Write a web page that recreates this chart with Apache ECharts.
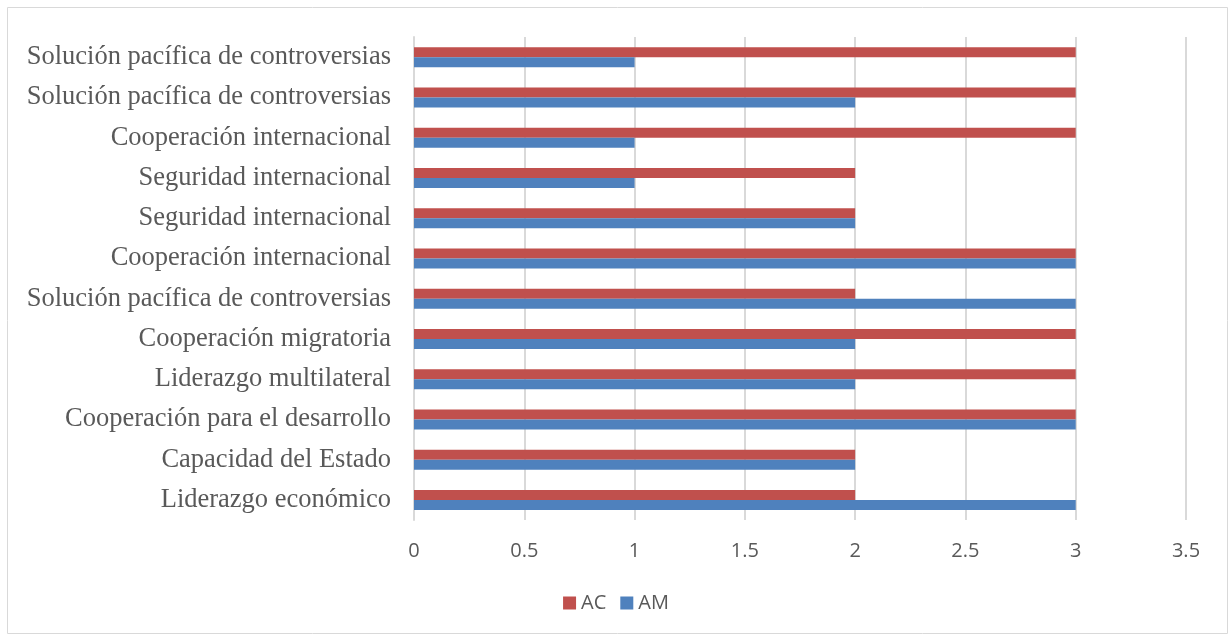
<!DOCTYPE html>
<html><head><meta charset="utf-8">
<script src="https://cdn.jsdelivr.net/npm/echarts@6/dist/echarts.min.js"></script>
<style>html,body{margin:0;padding:0;background:#fff}#c{width:1232px;height:639px}</style>
</head><body><div id="c"></div>
<script>
const categories = [
  'Liderazgo económico',
  'Capacidad del Estado',
  'Cooperación para el desarrollo',
  'Liderazgo multilateral',
  'Cooperación migratoria',
  'Solución pacífica de controversias',
  'Cooperación internacional',
  'Seguridad internacional',
  'Seguridad internacional',
  'Cooperación internacional',
  'Solución pacífica de controversias',
  'Solución pacífica de controversias'
];
const acValues = [2, 2, 3, 3, 3, 2, 3, 2, 2, 3, 3, 3];
const amValues = [3, 2, 3, 2, 2, 3, 3, 2, 1, 1, 2, 1];
const xTicks = [0, 0.5, 1, 1.5, 2, 2.5, 3, 3.5];

const chart = echarts.init(document.getElementById('c'));
chart.setOption({
  animation: false,
  graphic: [{
    type: 'rect', shape: {x: 7.5, y: 7.5, width: 1220, height: 626},
    style: {fill: 'none', stroke: '#d9d9d9', lineWidth: 1}, silent: true
  }],
  grid: {left: 414, right: 46, top: 37, bottom: 119},
  legend: {
    data: ['AC', 'AM'], bottom: 21, left: 'center',
    itemWidth: 13, itemHeight: 13, itemGap: 14, icon: 'rect',
    textStyle: {fontFamily: 'Open Sans, Liberation Sans, sans-serif', fontSize: 20, color: '#595959'}
  },
  xAxis: {
    type: 'value', min: 0, max: 3.5, interval: 0.5,
    axisLine: {show: false}, axisTick: {show: false},
    splitLine: {lineStyle: {color: '#d9d9d9', width: 2}},
    axisLabel: {margin: 21, fontFamily: 'Open Sans, Liberation Sans, sans-serif', fontSize: 20, color: '#595959',
      formatter: v => xTicks.includes(v) ? String(v) : ''}
  },
  yAxis: {
    type: 'category', data: categories,
    axisLine: {show: true, lineStyle: {color: '#d9d9d9', width: 2}},
    axisTick: {show: false},
    axisLabel: {margin: 23, fontFamily: 'Liberation Serif, Times New Roman, serif', fontSize: 26.5, color: '#595959'}
  },
  series: [
    {name: 'AC', type: 'bar', data: acValues, barWidth: 10, barGap: '0%',
      itemStyle: {color: '#c0504d'}},
    {name: 'AM', type: 'bar', data: amValues, barWidth: 10, barGap: '0%',
      itemStyle: {color: '#4f81bd'}}
  ]
});
</script></body></html>
